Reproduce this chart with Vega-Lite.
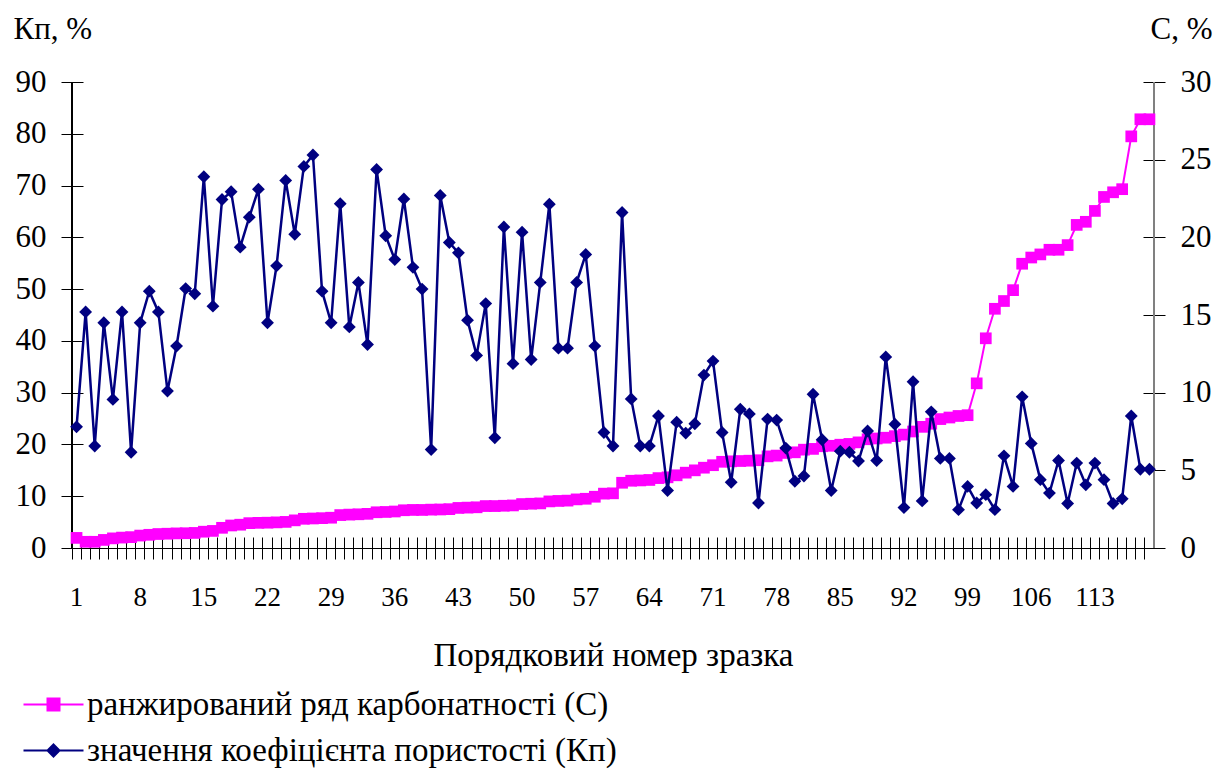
{
  "$schema": "https://vega.github.io/schema/vega-lite/v6.json",
  "width": 1082,
  "height": 466,
  "autosize": "none",
  "padding": {"left": 72, "top": 82, "right": 77, "bottom": 226},
  "background": "white",
  "config": {
    "font": "Liberation Serif",
    "view": {"stroke": null},
    "axis": {"grid": false, "labelFont": "Liberation Serif", "titleFont": "Liberation Serif", "labelColor": "black", "titleColor": "black", "titleFontWeight": "normal", "tickColor": "black", "domainColor": "black"}
  },
  "data": {"values": [
    {"n":1,"C":0.65,"Kp":23.4},{"n":2,"C":0.4,"Kp":45.6},{"n":3,"C":0.4,"Kp":19.7},{"n":4,"C":0.52,"Kp":43.5},{"n":5,"C":0.62,"Kp":28.7},
    {"n":6,"C":0.67,"Kp":45.6},{"n":7,"C":0.7,"Kp":18.5},{"n":8,"C":0.8,"Kp":43.5},{"n":9,"C":0.85,"Kp":49.6},{"n":10,"C":0.9,"Kp":45.6},
    {"n":11,"C":0.92,"Kp":30.3},{"n":12,"C":0.94,"Kp":39.0},{"n":13,"C":0.95,"Kp":50.1},{"n":14,"C":0.97,"Kp":49.1},{"n":15,"C":1.05,"Kp":71.7},
    {"n":16,"C":1.1,"Kp":46.7},{"n":17,"C":1.3,"Kp":67.3},{"n":18,"C":1.45,"Kp":68.8},{"n":19,"C":1.5,"Kp":58.1},{"n":20,"C":1.6,"Kp":63.9},
    {"n":21,"C":1.62,"Kp":69.3},{"n":22,"C":1.63,"Kp":43.5},{"n":23,"C":1.65,"Kp":54.5},{"n":24,"C":1.68,"Kp":71.0},{"n":25,"C":1.78,"Kp":60.6},
    {"n":26,"C":1.88,"Kp":73.7},{"n":27,"C":1.9,"Kp":75.9},{"n":28,"C":1.92,"Kp":49.6},{"n":29,"C":1.95,"Kp":43.5},{"n":30,"C":2.12,"Kp":66.5},
    {"n":31,"C":2.15,"Kp":42.7},{"n":32,"C":2.17,"Kp":51.3},{"n":33,"C":2.2,"Kp":39.3},{"n":34,"C":2.3,"Kp":73.1},{"n":35,"C":2.32,"Kp":60.3},
    {"n":36,"C":2.35,"Kp":55.7},{"n":37,"C":2.43,"Kp":67.4},{"n":38,"C":2.45,"Kp":54.2},{"n":39,"C":2.45,"Kp":50.0},{"n":40,"C":2.47,"Kp":19.0},
    {"n":41,"C":2.48,"Kp":68.1},{"n":42,"C":2.5,"Kp":59.0},{"n":43,"C":2.58,"Kp":57.0},{"n":44,"C":2.6,"Kp":44.0},{"n":45,"C":2.62,"Kp":37.2},
    {"n":46,"C":2.7,"Kp":47.2},{"n":47,"C":2.7,"Kp":21.3},{"n":48,"C":2.72,"Kp":62.0},{"n":49,"C":2.74,"Kp":35.6},{"n":50,"C":2.83,"Kp":61.0},
    {"n":51,"C":2.85,"Kp":36.4},{"n":52,"C":2.87,"Kp":51.3},{"n":53,"C":3.0,"Kp":66.4},{"n":54,"C":3.03,"Kp":38.6},{"n":55,"C":3.05,"Kp":38.6},
    {"n":56,"C":3.13,"Kp":51.3},{"n":57,"C":3.17,"Kp":56.7},{"n":58,"C":3.3,"Kp":39.0},{"n":59,"C":3.5,"Kp":22.3},{"n":60,"C":3.52,"Kp":19.7},
    {"n":61,"C":4.2,"Kp":64.8},{"n":62,"C":4.33,"Kp":28.8},{"n":63,"C":4.35,"Kp":19.7},{"n":64,"C":4.38,"Kp":19.7},{"n":65,"C":4.5,"Kp":25.5},
    {"n":66,"C":4.55,"Kp":11.1},{"n":67,"C":4.68,"Kp":24.3},{"n":68,"C":4.85,"Kp":22.2},{"n":69,"C":5.0,"Kp":24.0},{"n":70,"C":5.17,"Kp":33.4},
    {"n":71,"C":5.33,"Kp":36.1},{"n":72,"C":5.55,"Kp":22.3},{"n":73,"C":5.58,"Kp":12.7},{"n":74,"C":5.6,"Kp":26.8},{"n":75,"C":5.62,"Kp":25.9},
    {"n":76,"C":5.65,"Kp":8.7},{"n":77,"C":5.9,"Kp":24.9},{"n":78,"C":5.95,"Kp":24.7},{"n":79,"C":6.12,"Kp":19.3},{"n":80,"C":6.16,"Kp":12.9},
    {"n":81,"C":6.33,"Kp":13.9},{"n":82,"C":6.38,"Kp":29.7},{"n":83,"C":6.55,"Kp":20.9},{"n":84,"C":6.58,"Kp":11.1},{"n":85,"C":6.65,"Kp":18.7},
    {"n":86,"C":6.7,"Kp":18.5},{"n":87,"C":6.8,"Kp":16.8},{"n":88,"C":7.0,"Kp":22.6},{"n":89,"C":7.05,"Kp":16.9},{"n":90,"C":7.1,"Kp":36.9},
    {"n":91,"C":7.2,"Kp":23.9},{"n":92,"C":7.3,"Kp":7.8},{"n":93,"C":7.5,"Kp":32.1},{"n":94,"C":7.8,"Kp":9.1},{"n":95,"C":8.0,"Kp":26.3},
    {"n":96,"C":8.3,"Kp":17.3},{"n":97,"C":8.4,"Kp":17.3},{"n":98,"C":8.5,"Kp":7.4},{"n":99,"C":8.55,"Kp":11.9},{"n":100,"C":10.6,"Kp":8.7},
    {"n":101,"C":13.5,"Kp":10.3},{"n":102,"C":15.4,"Kp":7.4},{"n":103,"C":15.9,"Kp":17.8},{"n":104,"C":16.6,"Kp":11.9},{"n":105,"C":18.3,"Kp":29.2},
    {"n":106,"C":18.7,"Kp":20.2},{"n":107,"C":18.9,"Kp":13.2},{"n":108,"C":19.2,"Kp":10.6},{"n":109,"C":19.2,"Kp":16.9},{"n":110,"C":19.5,"Kp":8.6},
    {"n":111,"C":20.8,"Kp":16.4},{"n":112,"C":21.0,"Kp":12.2},{"n":113,"C":21.7,"Kp":16.4},{"n":114,"C":22.6,"Kp":13.2},{"n":115,"C":22.9,"Kp":8.6},
    {"n":116,"C":23.1,"Kp":9.5},{"n":117,"C":26.5,"Kp":25.5},{"n":118,"C":27.6,"Kp":15.2},{"n":119,"C":27.6,"Kp":15.2}
  ]},
  "layer": [
    {
      "mark": {"type": "rule", "color": "black", "strokeWidth": 1},
      "encoding": {"x": {"datum": 1, "type": "ordinal", "bandPosition": 0, "axis": null, "scale": {"type": "band", "paddingInner": 0, "paddingOuter": 0}}}
    },
    {
      "mark": {"type": "rule", "color": "#808080", "strokeWidth": 1.5},
      "encoding": {"x": {"datum": 119, "type": "ordinal", "bandPosition": 1, "axis": null, "scale": {"type": "band", "paddingInner": 0, "paddingOuter": 0}}}
    },
    {
      "encoding": {
        "x": {"field": "n", "type": "ordinal", "bandPosition": 0.5, "scale": {"type": "band", "paddingInner": 0, "paddingOuter": 0},
          "axis": {"orient": "bottom", "bandPosition": 0.5, "domain": true, "domainWidth": 1, "ticks": false, "tickSize": 0, "labelAngle": 0, "labelFontSize": 27, "labelPadding": 36, "labelOverlap": false, "labelExpr": "(datum.value - 1) % 7 === 0 ? datum.label : ''", "title": "Порядковий номер зразка", "titleFontSize": 33, "titlePadding": 29}},
        "y": {"field": "C", "type": "quantitative", "scale": {"domain": [0, 30]},
          "axis": {"orient": "right", "offset": -11, "tickSize": 22, "domain": false, "values": [0, 5, 10, 15, 20, 25, 30], "labelFontSize": 31, "labelPadding": 15, "title": "С, %", "titleFontSize": 31, "titleAngle": 0, "titleAlign": "left", "titleBaseline": "alphabetic", "titleX": 7, "titleY": -44}}
      },
      "layer": [
        {
          "mark": {"type": "line", "strokeWidth": 2},
          "encoding": {
            "color": {"datum": "ранжирований ряд карбонатності (С)",
              "scale": {"domain": ["ранжирований ряд карбонатності (С)", "значення коефіцієнта пористості (Кп)"], "range": ["#ff00ff", "#000080"]},
              "legend": {"title": null, "orient": "none", "legendX": -35, "legendY": 606, "direction": "vertical", "labelFontSize": 33, "labelFont": "Liberation Serif", "labelColor": "black", "labelLimit": 0, "symbolSize": 900, "rowPadding": 12, "labelOffset": 17, "padding": 0,
                "encode": {"symbols": {"update": {
                  "shape": {"signal": "datum.index === 0 ? 'M-2,0H2M-0.4,-0.4H0.4V0.4H-0.4Z' : 'M-2,0H2M0,-0.4L0.4,0L0,0.4L-0.4,0Z'"},
                  "fill": {"scale": "color", "field": "value"},
                  "stroke": {"scale": "color", "field": "value"},
                  "strokeWidth": {"value": 2},
                  "size": {"value": 900},
                  "opacity": {"value": 1}
                }}}}
            }
          }
        },
        {"mark": {"type": "point", "shape": "square", "filled": true, "size": 137, "color": "#ff00ff", "opacity": 1}}
      ]
    },
    {
      "encoding": {
        "x": {"field": "n", "type": "ordinal", "bandPosition": 0.5, "scale": {"type": "band", "paddingInner": 0, "paddingOuter": 0},
          "axis": {"orient": "bottom", "bandPosition": 0, "offset": -11, "tickSize": 22, "ticks": true, "labels": false, "domain": false, "title": null}},
        "y": {"field": "Kp", "type": "quantitative", "scale": {"domain": [0, 90]},
          "axis": {"orient": "left", "offset": -11, "tickSize": 22, "domain": false, "values": [0, 10, 20, 30, 40, 50, 60, 70, 80, 90], "labelFontSize": 31, "labelPadding": 15, "title": "Кп, %", "titleFontSize": 31, "titleAngle": 0, "titleAlign": "left", "titleBaseline": "alphabetic", "titleX": -70, "titleY": -44}}
      },
      "layer": [
        {
          "mark": {"type": "line", "strokeWidth": 2.5},
          "encoding": {"color": {"datum": "значення коефіцієнта пористості (Кп)"}}
        },
        {"mark": {"type": "point", "shape": "diamond", "filled": true, "size": 165, "color": "#000080", "opacity": 1}}
      ]
    }
  ],
  "resolve": {"scale": {"y": "independent"}, "axis": {"x": "independent", "y": "independent"}}
}
